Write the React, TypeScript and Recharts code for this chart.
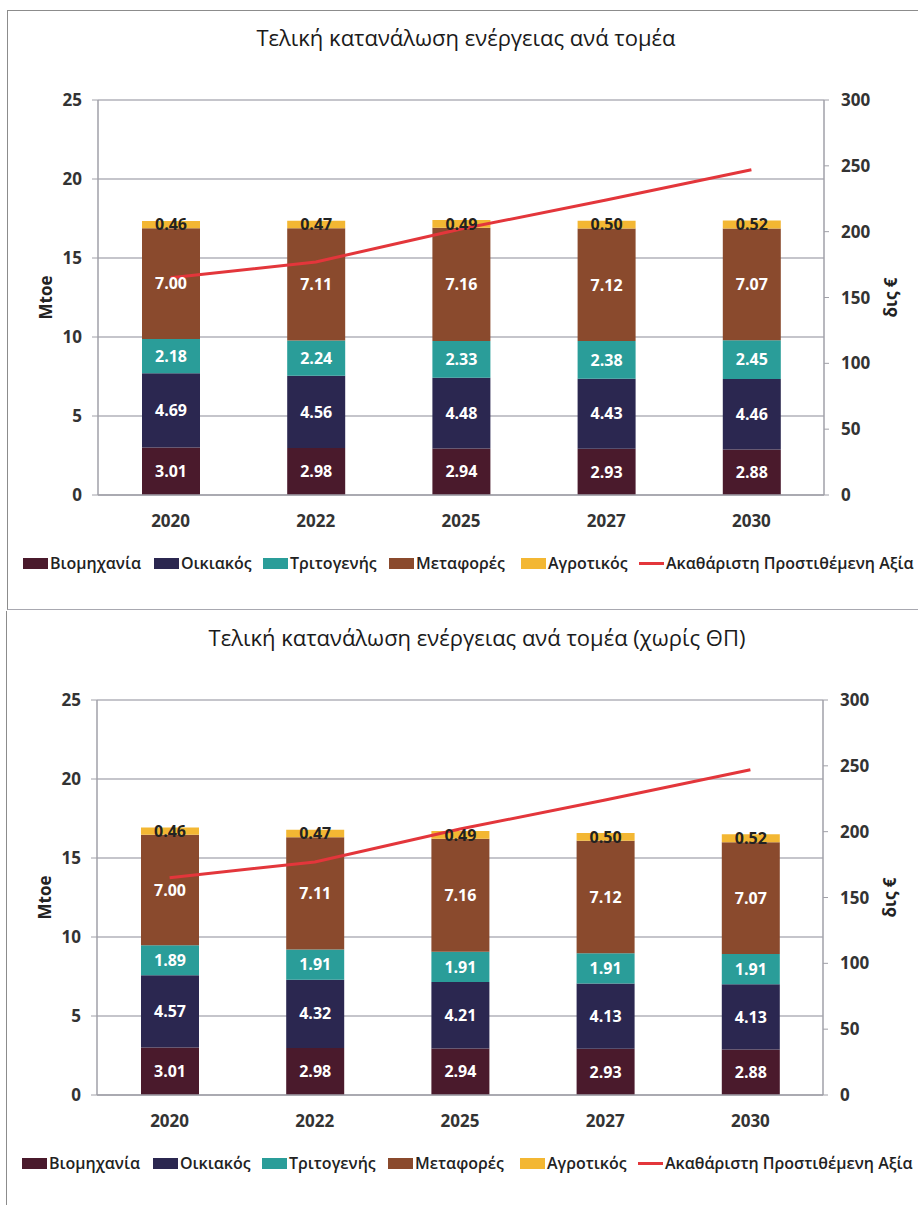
import { ComposedChart, Bar, Line, XAxis, YAxis, CartesianGrid, Legend, LabelList } from 'recharts';

const years = ['2020', '2022', '2025', '2027', '2030'];

// Mtoe per sector
const industry = [3.01, 2.98, 2.94, 2.93, 2.88];
const households = [4.69, 4.56, 4.48, 4.43, 4.46];
const tertiary = [2.18, 2.24, 2.33, 2.38, 2.45];
const transport = [7.0, 7.11, 7.16, 7.12, 7.07];
const agriculture = [0.46, 0.47, 0.49, 0.5, 0.52];

// without heat pumps (χωρίς ΘΠ)
const householdsNoHP = [4.57, 4.32, 4.21, 4.13, 4.13];
const tertiaryNoHP = [1.89, 1.91, 1.91, 1.91, 1.91];

// gross value added, δις €
const gva = [165, 177, 202, 224, 247];

const leftTicks = [0, 5, 10, 15, 20, 25];
const rightTicks = [0, 50, 100, 150, 200, 250, 300];

const seriesNames = ['Βιομηχανία', 'Οικιακός', 'Τριτογενής', 'Μεταφορές', 'Αγροτικός', 'Ακαθάριστη Προστιθέμενη Αξία'];
const legendLefts = [15, 146, 255, 381, 513, 631];

const font = '"Open Sans", sans-serif';
const colors = {
  industry: '#4a1a2c',
  households: '#2b2750',
  tertiary: '#2a9d99',
  transport: '#8a4a2d',
  agriculture: '#f3b733',
  gva: '#e3363b',
};
const seriesColors = [colors.industry, colors.households, colors.tertiary, colors.transport, colors.agriculture, colors.gva];

const buildRows = (house: number[], tert: number[]) =>
  years.map((year, i) => ({
    year,
    industry: industry[i],
    households: house[i],
    tertiary: tert[i],
    transport: transport[i],
    agriculture: agriculture[i],
    gva: gva[i],
  }));

const fmt = (v: any) => Number(v).toFixed(2);

// Excel-style legend, kept in series order
const LegendRow = () => (
  <div style={{ position: 'relative', height: 60, width: 911, fontFamily: font, fontSize: 16, fontWeight: 600, color: '#222', whiteSpace: 'nowrap' }}>
    {seriesNames.map((name, i) => (
      <div key={name} style={{ position: 'absolute', left: legendLefts[i], top: 13, height: 22, display: 'flex', alignItems: 'center' }}>
        {i === 5 ? (
          <span style={{ width: 25, height: 3, background: seriesColors[i], marginRight: 2 }} />
        ) : (
          <span style={{ width: 25, height: 11, background: seriesColors[i], marginRight: 2 }} />
        )}
        <span>{name}</span>
      </div>
    ))}
  </div>
);

const tickStyle = { fontFamily: font, fontSize: 17, fontWeight: 700, fill: '#333' };
const labelStyle = { fontFamily: font, fontSize: 16, fontWeight: 700 };

const EnergyChart = ({ title, house, tert, titleX }: { title: string; house: number[]; tert: number[]; titleX: number }) => {
  const data = buildRows(house, tert);
  return (
    <div style={{ position: 'relative', width: 911, height: 598 }}>
      <div style={{ position: 'absolute', left: titleX - 350, width: 700, top: 11, textAlign: 'center', fontFamily: font, fontSize: 22, color: '#1a1a1a' }}>
        {title}
      </div>
      <ComposedChart width={911} height={598} data={data} margin={{ top: 89, right: 0, bottom: 10, left: 0 }}>
        <CartesianGrid vertical={false} stroke="#b2b2ba" strokeWidth={1.5} yAxisId="left" />
        <XAxis dataKey="year" tick={tickStyle} tickLine={false} axisLine={{ stroke: '#a0a0a8', strokeWidth: 1.5 }} height={44} tickMargin={14} />
        <YAxis
          yAxisId="left"
          domain={[0, 25]}
          ticks={leftTicks}
          width={90}
          tick={tickStyle}
          tickSize={6}
          tickMargin={10}
          axisLine={{ stroke: '#a0a0a8', strokeWidth: 1.5 }}
          tickLine={{ stroke: '#a0a0a8' }}
          label={{
            content: (props: any) => {
              const vb = props.viewBox;
              const cx = vb.x + 37;
              const cy = vb.y + vb.height / 2;
              return (
                <text x={cx} y={cy} transform={`rotate(-90 ${cx} ${cy})`} textAnchor="middle" dominantBaseline="central" style={{ fontFamily: font, fontSize: 17, fontWeight: 700, fill: '#222' }}>
                  Mtoe
                </text>
              );
            },
          }}
        />
        <YAxis
          yAxisId="right"
          orientation="right"
          domain={[0, 300]}
          ticks={rightTicks}
          width={95}
          tick={{ ...tickStyle, textAnchor: 'start' }}
          tickSize={5}
          tickMargin={12}
          axisLine={{ stroke: '#a0a0a8', strokeWidth: 1.5 }}
          tickLine={{ stroke: '#a0a0a8' }}
          label={{
            content: (props: any) => {
              const vb = props.viewBox;
              const cx = vb.x + 66;
              const cy = vb.y + vb.height / 2;
              return (
                <text x={cx} y={cy} transform={`rotate(-90 ${cx} ${cy})`} textAnchor="middle" dominantBaseline="central" style={{ fontFamily: font, fontSize: 17, fontWeight: 700, fill: '#222' }}>
                  δις €
                </text>
              );
            },
          }}
        />
        <Legend verticalAlign="bottom" align="left" content={<LegendRow />} />
        <Bar yAxisId="left" dataKey="industry" name={seriesNames[0]} stackId="s" fill={colors.industry} barSize={58} isAnimationActive={false}>
          <LabelList dataKey="industry" position="center" formatter={fmt} style={{ ...labelStyle, fill: '#fff' }} />
        </Bar>
        <Bar yAxisId="left" dataKey="households" name={seriesNames[1]} stackId="s" fill={colors.households} barSize={58} isAnimationActive={false}>
          <LabelList dataKey="households" position="center" formatter={fmt} style={{ ...labelStyle, fill: '#fff' }} />
        </Bar>
        <Bar yAxisId="left" dataKey="tertiary" name={seriesNames[2]} stackId="s" fill={colors.tertiary} barSize={58} isAnimationActive={false}>
          <LabelList dataKey="tertiary" position="center" formatter={fmt} style={{ ...labelStyle, fill: '#fff' }} />
        </Bar>
        <Bar yAxisId="left" dataKey="transport" name={seriesNames[3]} stackId="s" fill={colors.transport} barSize={58} isAnimationActive={false}>
          <LabelList dataKey="transport" position="center" formatter={fmt} style={{ ...labelStyle, fill: '#fff' }} />
        </Bar>
        <Bar yAxisId="left" dataKey="agriculture" name={seriesNames[4]} stackId="s" fill={colors.agriculture} barSize={58} isAnimationActive={false}>
          <LabelList dataKey="agriculture" position="center" formatter={fmt} style={{ ...labelStyle, fill: '#222' }} />
        </Bar>
        <Line yAxisId="right" type="linear" dataKey="gva" name={seriesNames[5]} stroke={colors.gva} strokeWidth={3} dot={false} isAnimationActive={false} />
      </ComposedChart>
    </div>
  );
};

export default function App() {
  return (
    <div style={{ position: 'absolute', left: 0, top: 0, width: 918, height: 1205, overflow: 'hidden', background: '#fff' }}>
      <div style={{ position: 'absolute', left: 7, top: 10, width: 930, height: 598, borderLeft: '1px solid #8c8c8c', borderTop: '1px solid #8c8c8c', borderBottom: '1px solid #a8a8b0' }}>
        <EnergyChart title="Τελική κατανάλωση ενέργειας ανά τομέα" house={households} tert={tertiary} titleX={458} />
      </div>
      <div style={{ position: 'absolute', left: 6, top: 611, width: 930, height: 600, borderLeft: '1px solid #8c8c8c' }}>
        <EnergyChart title="Τελική κατανάλωση ενέργειας ανά τομέα (χωρίς ΘΠ)" house={householdsNoHP} tert={tertiaryNoHP} titleX={470} />
      </div>
    </div>
  );
}
